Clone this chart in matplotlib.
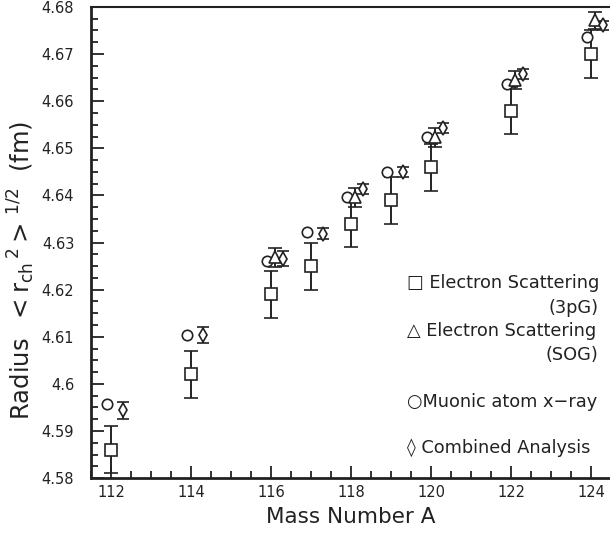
import numpy as np
import matplotlib
matplotlib.use('Agg')
import matplotlib.pyplot as plt
from matplotlib.ticker import MultipleLocator, FuncFormatter

plt.rcParams['font.family'] = ['DejaVu Sans']
plt.rcParams['mathtext.default'] = 'regular'

ink = '#222222'

# 电子散射 3pG
mass_3pg = [112, 114, 116, 117, 118, 119, 120, 122, 124]
r_3pg = [4.586, 4.602, 4.619, 4.625, 4.634, 4.639, 4.646, 4.658, 4.670]
err_3pg = [0.005] * 9

# 电子散射 SOG
mass_sog = [116.1, 118.1, 120.1, 122.1, 124.1]
r_sog = [4.6269, 4.6396, 4.6523, 4.6645, 4.6772]
err_sog = [0.002, 0.002, 0.002, 0.002, 0.0018]

# 缪子原子 x 射线
mass_mu = [111.9, 113.9, 115.9, 116.9, 117.9, 118.9, 119.9, 121.9, 123.9]
r_mu = [4.5958, 4.6104, 4.6261, 4.6322, 4.6396, 4.6449, 4.6523, 4.6636, 4.6737]

# 联合分析
mass_comb = [112.3, 114.3, 116.3, 117.3, 118.3, 119.3, 120.3, 122.3, 124.3]
r_comb = [4.5944, 4.6104, 4.6266, 4.6319, 4.6414, 4.6450, 4.6543, 4.6658, 4.6761]
err_comb = [0.0018, 0.0017, 0.0016, 0.0012, 0.0011, 0.0010, 0.0010, 0.0010, 0.0010]

fig = plt.figure(figsize=(6.1, 5.33), dpi=100)
ax = fig.add_axes([0.149, 0.103, 0.853, 0.884])

common = dict(color=ink, ecolor=ink, elinewidth=1.4, capthick=1.4,
              markerfacecolor='white', markeredgecolor=ink, markeredgewidth=1.2,
              linestyle='none')
ax.errorbar(mass_3pg, r_3pg, yerr=err_3pg, fmt='s', markersize=8.5, capsize=5, **common)
ax.errorbar(mass_sog, r_sog, yerr=err_sog, fmt='^', markersize=8, capsize=5, **common)
ax.plot(mass_mu, r_mu, 'o', markersize=7.5, markerfacecolor='white',
        markeredgecolor=ink, markeredgewidth=1.2, linestyle='none')
ax.errorbar(mass_comb, r_comb, yerr=err_comb, fmt='d', markersize=7, capsize=4, **common)

ax.set_xlim(111.5, 124.5)
ax.set_ylim(4.58, 4.68)

ax.xaxis.set_major_locator(MultipleLocator(2))
ax.xaxis.set_minor_locator(MultipleLocator(0.5))
ax.yaxis.set_major_locator(MultipleLocator(0.01))
ax.yaxis.set_minor_locator(MultipleLocator(0.0025))
ax.yaxis.set_major_formatter(FuncFormatter(lambda v, p: '%g' % round(v, 4)))

ax.tick_params(which='both', direction='in', colors=ink, labelsize=10.5,
               top=False, right=False, width=1.3)
ax.tick_params(which='major', length=9)
ax.tick_params(which='minor', length=5)
ax.tick_params(axis='y', pad=12)
ax.tick_params(axis='x', pad=5)

for s in ['left', 'bottom']:
    ax.spines[s].set_linewidth(2)
    ax.spines[s].set_color(ink)
ax.spines['top'].set_linewidth(1.5)
ax.spines['top'].set_color(ink)
ax.spines['right'].set_visible(False)

ax.set_xlabel('Mass Number A', fontsize=15.5, color=ink, labelpad=5)
ax.set_ylabel(r'Radius  $<r_{ch}{}^{\,2}>^{\,1/2}$  (fm)', fontsize=17.5, color=ink, labelpad=3)
ax.yaxis.label.set_y(0.44)

# 图例文字
tk = dict(transform=ax.transAxes, fontsize=12.8, color=ink, va='center')
ax.text(0.608, 0.414, '\u25a1 Electron Scattering', ha='left', **tk)
ax.text(0.975, 0.361, '(3pG)', ha='right', **tk)
ax.text(0.608, 0.312, '\u25b3 Electron Scattering', ha='left', **tk)
ax.text(0.975, 0.261, '(SOG)', ha='right', **tk)
ax.text(0.608, 0.161, '\u25cbMuonic atom x\u2212ray', ha='left', **tk)
ax.text(0.608, 0.064, '\u25ca Combined Analysis', ha='left', **tk)

fig.savefig('out.png', dpi=100)
